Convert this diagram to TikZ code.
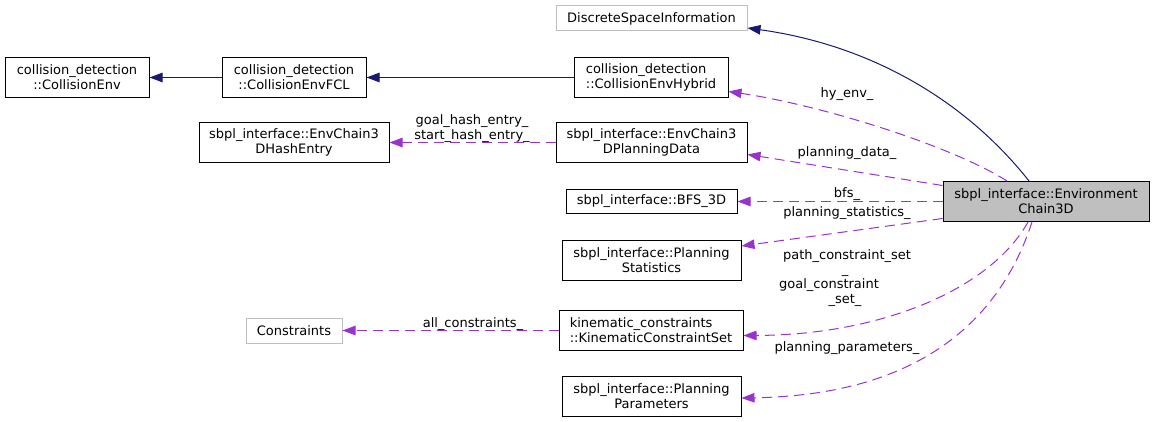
\documentclass[tikz,border=0pt]{standalone}
\usepackage{fontspec}
\setmainfont{DejaVu Sans}
\usetikzlibrary{arrows.meta}
\definecolor{navy}{HTML}{191970}
\definecolor{orchid}{HTML}{9A32CD}
\definecolor{greyline}{HTML}{BFBFBF}
\definecolor{greyfill}{HTML}{BFBFBF}
\begin{document}
\begin{tikzpicture}[x=1pt,y=-1pt,
  box/.style={draw=black, line width=1pt, fill=white, inner sep=0pt, align=center,
    font=\fontsize{13}{15}\selectfont},
  extbox/.style={box, draw=greyline},
  lbl/.style={inner sep=0pt, anchor=base, font=\fontsize{13}{15}\selectfont},
  inh/.style={draw=navy, line width=1pt, -{Triangle[length=13pt,width=9.5pt]}},
  usage/.style={draw=orchid, line width=1pt, dash pattern=on 10pt off 6pt,
    -{Triangle[length=13pt,width=9.5pt]}}]
\useasboundingbox (0,0) rectangle (1155,422);
% nodes
\node[extbox, minimum width=191pt, minimum height=25pt] (dsi) at (651.5,18.5) {DiscreteSpaceInformation};
\node[box, minimum width=144pt, minimum height=40pt] (ce) at (77,77.5) {collision\_detection\\::CollisionEnv};
\node[box, minimum width=144pt, minimum height=40pt] (fcl) at (294,77.5) {collision\_detection\\::CollisionEnvFCL};
\node[box, minimum width=154pt, minimum height=40pt, align=left] (hyb) at (651,77.5) {collision\_detection\\::CollisionEnvHybrid};
\node[box, minimum width=190pt, minimum height=40pt] (hash) at (294,142.5) {sbpl\_interface::EnvChain3\\DHashEntry};
\node[box, minimum width=191pt, minimum height=40pt] (pdata) at (651.5,142.5) {sbpl\_interface::EnvChain3\\DPlanningData};
\node[box, fill=greyfill, minimum width=206pt, minimum height=40pt] (env) at (1046,201.5) {sbpl\_interface::Environment\\Chain3D};
\node[box, minimum width=171pt, minimum height=24pt] (bfs) at (651.5,201.5) {sbpl\_interface::BFS\_3D};
\node[box, minimum width=179pt, minimum height=40pt] (pstat) at (651.5,260) {sbpl\_interface::Planning\\Statistics};
\node[box, minimum width=184pt, minimum height=40pt, align=left] (kin) at (651,330.5) {kinematic\_constraints\\::KinematicConstraintSet};
\node[extbox, minimum width=96pt, minimum height=25pt] (cons) at (294,330.5) {Constraints};
\node[box, minimum width=179pt, minimum height=40pt] (pparam) at (651.5,396) {sbpl\_interface::Planning\\Parameters};
% inheritance edges
\draw[inh] ([xshift=-17pt]env.north) .. controls (965,100) and (870,45) .. ([yshift=-9.5pt]dsi.east);
\draw[inh] (hyb.west) -- (fcl.east);
\draw[inh] (fcl.west) -- (ce.east);
% usage edges
\draw[usage] ([xshift=-39pt]env.north) .. controls (950,145) and (820,105) .. ([yshift=-14pt]hyb.east);
\draw[usage] ([yshift=16pt]env.west) -- ([yshift=-12pt]pdata.east);
\draw[usage] (env.west) -- (bfs.east);
\draw[usage] ([yshift=-17pt]env.west) -- ([yshift=14pt]pstat.east);
\draw[usage] ([xshift=-18pt]env.south) .. controls (990,290) and (880,335) .. ([yshift=-5pt]kin.east);
\draw[usage] ([xshift=-14pt]env.south) .. controls (1000,320) and (920,395) .. ([yshift=-2pt]pparam.east);
\draw[usage] (pdata.west) -- (hash.east);
\draw[usage] (kin.west) -- (cons.east);
% edge labels
\node[lbl] (l1) at (847,97.5) {hy\_env\_};
\node[lbl] (l2) at (847,156.5) {planning\_data\_};
\node[lbl] (l3) at (847,197.5) {bfs\_};
\node[lbl] (l4) at (847,216.5) {planning\_statistics\_};
\node[lbl] (l5) at (847,259.5) {path\_constraint\_set};
\node[lbl] (l6) at (845,273) {\_};
\node[lbl] (l7) at (829,288.5) {goal\_constraint};
\node[lbl] (l8) at (845,303.5) {\_set\_};
\node[lbl] (l9) at (847,351.5) {planning\_parameters\_};
\node[lbl] (l10) at (472,125) {goal\_hash\_entry\_};
\node[lbl] (l11) at (472,139.5) {start\_hash\_entry\_};
\node[lbl] (l12) at (473,327.5) {all\_constraints\_};
\end{tikzpicture}
\end{document}
